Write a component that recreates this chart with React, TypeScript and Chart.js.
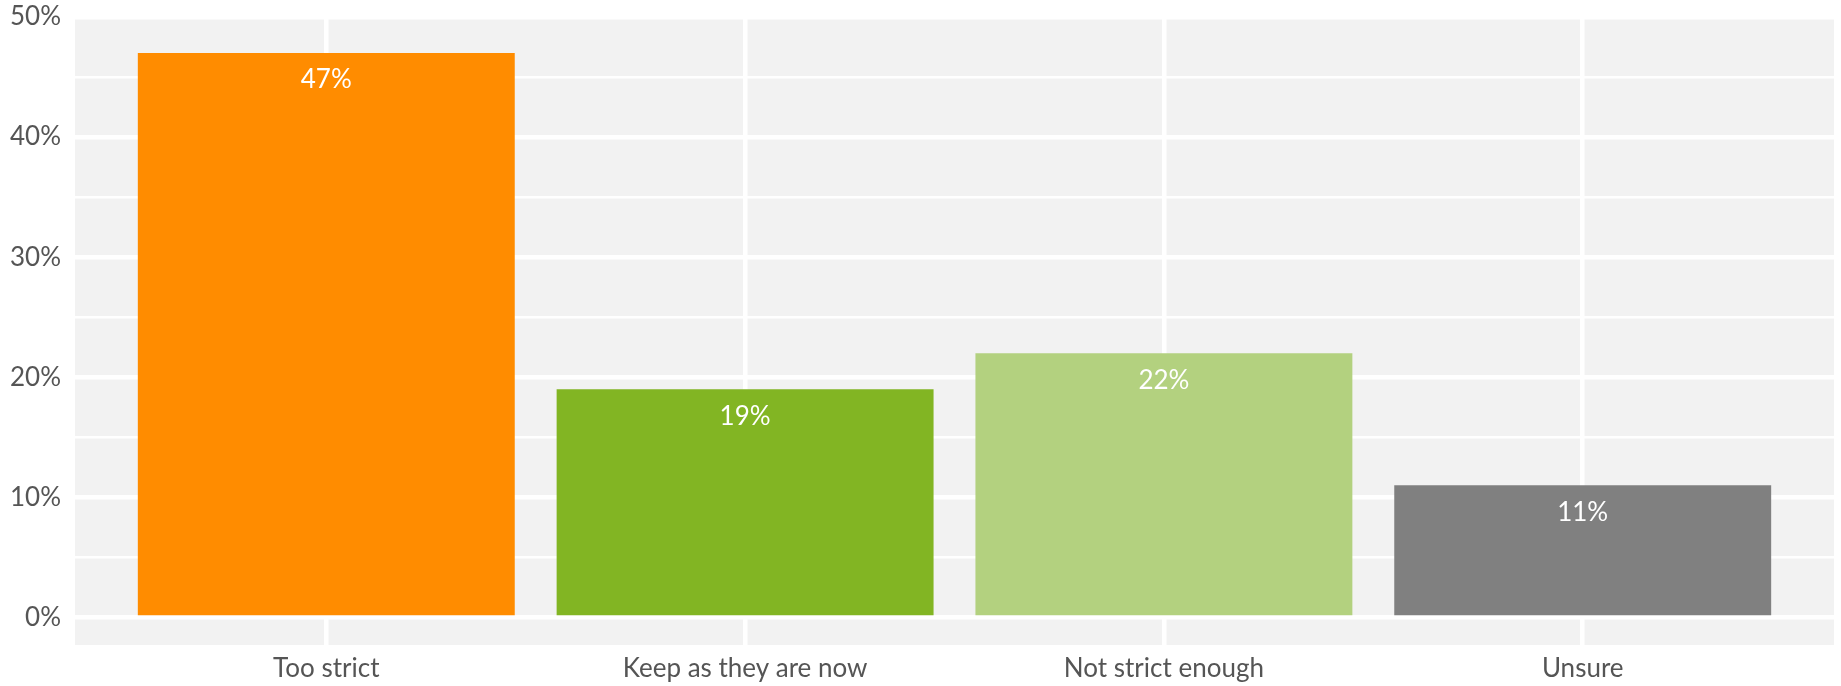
import React, { useEffect, useRef } from "react";
import { Chart, registerables } from "chart.js";

Chart.register(...registerables);

const categories = ["Too strict", "Keep as they are now", "Not strict enough", "Unsure"];
const shares = [47, 19, 22, 11];
const barColors = ["#FF8C00", "#82B523", "#B3D17F", "#808080"];
const majorTicks = [0, 10, 20, 30, 40, 50];
const minorTicks = [5, 15, 25, 35, 45];

const FONT = "Lato";

const panelPlugin = {
  id: "panelBg",
  beforeDraw(chart: any) {
    const { ctx, chartArea } = chart;
    ctx.save();
    ctx.fillStyle = "#F2F2F2";
    ctx.fillRect(chartArea.left, chartArea.top, chartArea.right - chartArea.left, chartArea.bottom - chartArea.top);
    ctx.restore();
  },
};

const labelPlugin = {
  id: "barLabels",
  afterDatasetsDraw(chart: any) {
    const { ctx } = chart;
    const meta = chart.getDatasetMeta(0);
    ctx.save();
    ctx.fillStyle = "#FFFFFF";
    ctx.font = `26px ${FONT}`;
    ctx.textAlign = "center";
    ctx.textBaseline = "middle";
    meta.data.forEach((bar: any, i: number) => {
      ctx.fillText(`${shares[i]}%`, bar.x, bar.y + 27);
    });
    ctx.restore();
  },
};

export default function App() {
  const ref = useRef<HTMLCanvasElement | null>(null);

  useEffect(() => {
    if (!ref.current) return;
    const chart = new Chart(ref.current, {
      type: "bar",
      data: {
        datasets: [
          {
            data: shares.map((v, i) => ({ x: i, y: v })),
            backgroundColor: barColors,
            borderWidth: 0,
            barPercentage: 0.9,
            categoryPercentage: 1,
          },
        ],
      },
      options: {
        responsive: false,
        animation: false,
        layout: { padding: { top: 17, right: 7, left: 0, bottom: 0 } },
        plugins: {
          legend: { display: false },
          tooltip: { enabled: false },
        },
        scales: {
          x: {
            type: "linear",
            min: -0.6,
            max: 3.6,
            offset: false,
            afterBuildTicks: (scale: any) => {
              scale.ticks = categories.map((_, i) => ({ value: i }));
            },
            afterFit: (scale: any) => {
              scale.height = 41;
              scale.paddingLeft = 0;
              scale.paddingRight = 0;
              scale.paddingTop = 0;
              scale.paddingBottom = 0;
            },
            ticks: {
              autoSkip: false,
              maxRotation: 0,
              padding: 11,
              color: "#555555",
              font: { family: FONT, size: 26, lineHeight: 1 },
              callback: (v: any) => categories[Math.round(Number(v))] ?? "",
            },
            grid: {
              color: "#FFFFFF",
              lineWidth: 4.5,
              drawTicks: false,
              offset: false,
            },
            border: { display: false },
          },
          y: {
            type: "linear",
            min: -2.3,
            max: 50,
            afterBuildTicks: (scale: any) => {
              scale.ticks = [...majorTicks, ...minorTicks].sort((a, b) => a - b).map((v) => ({ value: v }));
            },
            afterFit: (scale: any) => {
              scale.width = 75;
              scale.paddingLeft = 0;
              scale.paddingRight = 0;
              scale.paddingTop = 0;
              scale.paddingBottom = 0;
            },
            ticks: {
              autoSkip: false,
              padding: 14,
              color: "#555555",
              font: { family: FONT, size: 26, lineHeight: 1 },
              callback: (v: any) => (majorTicks.includes(Number(v)) ? `${v}%` : ""),
            },
            grid: {
              color: "#FFFFFF",
              lineWidth: (ctx: any) => (majorTicks.includes(ctx.tick?.value) ? 4.5 : 2.5),
              drawTicks: false,
            },
            border: { display: false },
          },
        },
      } as any,
      plugins: [panelPlugin, labelPlugin],
    });
    return () => chart.destroy();
  }, []);

  return (
    <div style={{ position: "fixed", left: 0, top: 0, width: 1841, height: 686, background: "#FFFFFF" }}>
      <canvas ref={ref} width={1841} height={686} style={{ display: "block" }} />
    </div>
  );
}
